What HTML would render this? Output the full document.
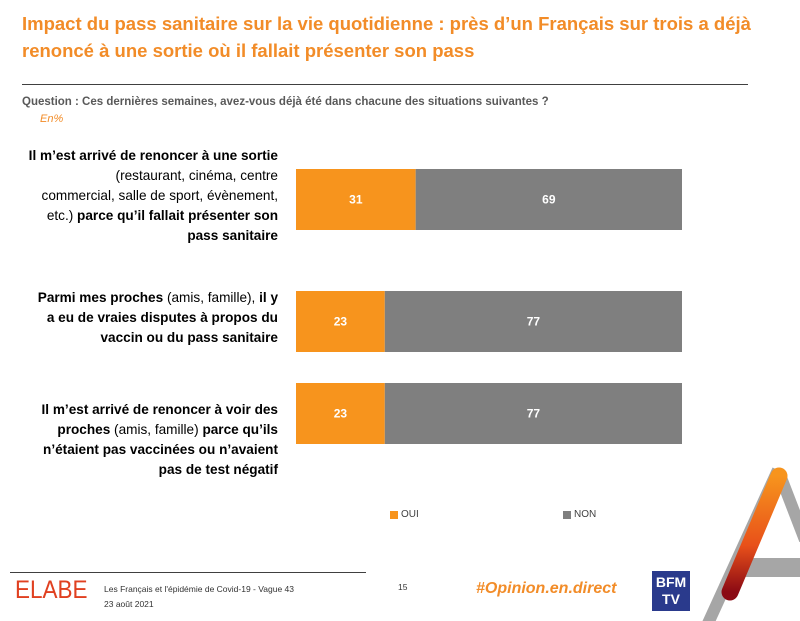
<!DOCTYPE html>
<html><head><meta charset="utf-8"><style>
body{margin:0;width:800px;height:621px;overflow:hidden;background:#fff;font-family:"Liberation Sans",sans-serif;position:relative}
.a{position:absolute}
.title{left:22px;top:10px;width:770px;color:#f28c28;font-size:18.5px;font-weight:bold;line-height:27px}
.q{left:22px;top:96px;font-size:11.5px;color:#595959;font-weight:bold}
.en{left:40px;top:113px;font-size:11px;color:#f28c28;font-style:italic}
.lab{width:300px;right:522px;text-align:right;font-size:13.6px;line-height:20px;color:#000;white-space:nowrap}
.lab b{font-weight:bold}
.lg{font-size:10px;color:#404040}
.sw{width:8px;height:8px}
</style></head><body>
<div class="a title">Impact du pass sanitaire sur la vie quotidienne : près d’un Français sur trois a déjà renoncé à une sortie où il fallait présenter son pass</div>
<div class="a" style="left:22px;top:84px;width:726px;height:1px;background:#404040"></div>
<div class="a q">Question : Ces dernières semaines, avez-vous déjà été dans chacune des situations suivantes ?</div>
<div class="a en">En%</div>
<div class="a lab" style="top:146px"><b>Il m’est arrivé de renoncer à une sortie</b><br>(restaurant, cinéma, centre<br>commercial, salle de sport, évènement,<br>etc.) <b>parce qu’il fallait présenter son<br>pass sanitaire</b></div>
<div class="a lab" style="top:288px"><b>Parmi mes proches</b> (amis, famille), <b>il y<br>a eu de vraies disputes à propos du<br>vaccin ou du pass sanitaire</b></div>
<div class="a lab" style="top:400px"><b>Il m’est arrivé de renoncer à voir des<br>proches</b> (amis, famille) <b>parce qu’ils<br>n’étaient pas vaccinées ou n’avaient<br>pas de test négatif</b></div>
<svg class="a" style="left:0;top:0" width="800" height="621" id="chart"></svg>
<div class="a sw" style="left:390px;top:511px;background:#f7941d"></div>
<div class="a lg" style="left:401px;top:509px">OUI</div>
<div class="a sw" style="left:563px;top:511px;background:#7f7f7f"></div>
<div class="a lg" style="left:574px;top:509px">NON</div>
<div class="a" style="left:10px;top:572px;width:356px;height:1px;background:#404040"></div>
<div class="a" style="left:15px;top:576px;font-size:25px;color:#e04020;transform:scaleX(0.9);transform-origin:left">ELABE</div>
<div class="a" style="left:104px;top:582px;font-size:8.5px;color:#333;line-height:15px">Les Français et l'épidémie de Covid-19 - Vague 43<br>23 août 2021</div>
<div class="a" style="left:398px;top:582px;font-size:8.5px;color:#333">15</div>
<div class="a" style="left:476px;top:580px;font-size:16px;color:#f28c28;font-style:italic;font-weight:bold">#Opinion.en.direct</div>
<div class="a" style="left:652px;top:571px;width:38px;height:40px;background:#2a3a8c;color:#fff;font-weight:bold;font-size:14px;line-height:17px;text-align:center;padding-top:3px;box-sizing:border-box">BFM<br>TV</div>
<svg class="a" style="left:0;top:0" width="800" height="621">
<defs><linearGradient id="g" x1="0" y1="0" x2="0" y2="1"><stop offset="0" stop-color="#f7941d"/><stop offset="0.6" stop-color="#e8501a"/><stop offset="1" stop-color="#8b0a14"/></linearGradient></defs>
<line x1="705" y1="630" x2="778" y2="470" stroke="#a6a6a6" stroke-width="12"/>
<line x1="780" y1="475" x2="805" y2="540" stroke="#a6a6a6" stroke-width="12"/>
<rect x="735" y="558" width="70" height="19" fill="#a6a6a6"/>
<line x1="779" y1="476" x2="730" y2="592" stroke="url(#g)" stroke-width="17" stroke-linecap="round"/>
</svg>
<script>
const categories=["renoncer-sortie","disputes-proches","renoncer-proches"];
const oui=[31,23,23];
const non=[69,77,77];
const svg=document.getElementById('chart');
const x0=296,W=386;
const xs=v=>v/100*W;
const rowTop=[169,291,383],bh=61;
categories.forEach((c,i)=>{
  let x=x0;
  [[oui[i],'#f7941d','oui'],[non[i],'#7f7f7f','non']].forEach(([v,col,k])=>{
    const r=document.createElementNS('http://www.w3.org/2000/svg','rect');
    r.setAttribute('x',x);r.setAttribute('y',rowTop[i]);r.setAttribute('width',xs(v));r.setAttribute('height',bh);r.setAttribute('fill',col);
    
    
    svg.appendChild(r);
    const t=document.createElementNS('http://www.w3.org/2000/svg','text');
    t.setAttribute('x',x+xs(v)/2);t.setAttribute('y',rowTop[i]+bh/2+4);t.setAttribute('text-anchor','middle');
    t.setAttribute('fill','#fff');t.setAttribute('font-size','12');t.setAttribute('font-weight','bold');t.setAttribute('font-family','Liberation Sans, sans-serif');
    t.textContent=v;
    
    
    svg.appendChild(t);
    x+=xs(v);
  });
});
</script>
</body></html>
